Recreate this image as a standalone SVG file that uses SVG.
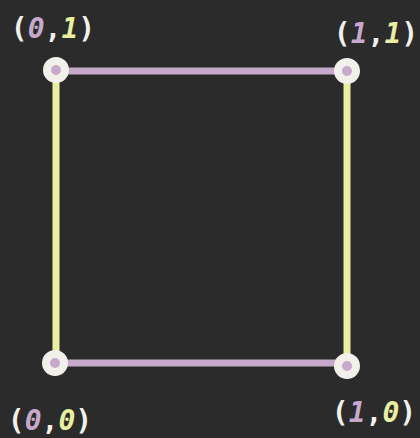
<svg xmlns="http://www.w3.org/2000/svg" width="420" height="438" viewBox="0 0 420 438">
<style>
.h{stroke:#c7a9cb;stroke-width:7;stroke-linecap:butt}
.v{stroke:#e9efa0;stroke-width:7;stroke-linecap:butt}
.pt{fill:#c7a9cb;stroke:#f2f0ea;stroke-width:8}
.lbl{font-family:"DejaVu Sans Mono","Liberation Mono",monospace;font-weight:bold;font-size:28px;fill:#f2f0ea}
.p{fill:#c7a9cb;font-style:italic}
.y{fill:#e9efa0;font-style:italic}
</style>
<rect width="420" height="438" fill="#2b2b2b"/>
<g id="edges">
<line class="h" x1="57" y1="71" x2="346" y2="71"/>
<line class="h" x1="55" y1="363" x2="346" y2="363"/>
<line class="v" x1="56" y1="71" x2="56" y2="363"/>
<line class="v" x1="347" y1="71" x2="347" y2="363"/>
</g>
<g id="n01"><circle class="pt" cx="56" cy="70" r="9"/><text class="lbl" x="53" y="38" text-anchor="middle">(<tspan class="p">0</tspan>,<tspan class="y">1</tspan>)</text></g>
<g id="n11"><circle class="pt" cx="347" cy="71" r="9"/><text class="lbl" x="376" y="43" text-anchor="middle">(<tspan class="p">1</tspan>,<tspan class="y">1</tspan>)</text></g>
<g id="n00"><circle class="pt" cx="55" cy="363" r="9"/><text class="lbl" x="50" y="430" text-anchor="middle">(<tspan class="p">0</tspan>,<tspan class="y">0</tspan>)</text></g>
<g id="n10"><circle class="pt" cx="347" cy="366" r="9"/><text class="lbl" x="374" y="422" text-anchor="middle">(<tspan class="p">1</tspan>,<tspan class="y">0</tspan>)</text></g>
</svg>
